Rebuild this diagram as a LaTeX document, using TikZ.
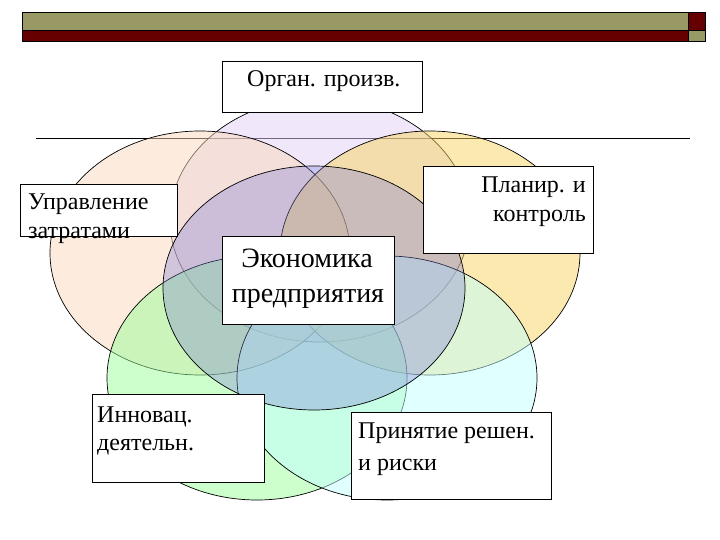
\documentclass[tikz,border=0pt]{standalone}
\usepackage{fontspec}
\setmainfont{Liberation Serif}
\definecolor{barGold}{HTML}{999966}
\definecolor{barRed}{HTML}{660000}
\definecolor{cTop}{HTML}{E1D1F5}
\definecolor{cLeft}{HTML}{FBD7BB}
\definecolor{cRight}{HTML}{F7D361}
\definecolor{cBL}{HTML}{99FF99}
\definecolor{cBR}{HTML}{C1FFFF}
\definecolor{cMid}{HTML}{7F80D6}
\tikzset{
  blob/.style={draw=black, line width=0.7pt, fill opacity=0.5},
  box/.style={draw=black, line width=0.9pt, fill=white, inner sep=0pt, anchor=north west},
  lbl/.style={inner sep=0pt, font=\fontsize{24}{29}\selectfont},
  biglbl/.style={inner sep=0pt, font=\fontsize{28}{34}\selectfont}
}
\begin{document}
\begin{tikzpicture}[x=1pt,y=-1pt]
\useasboundingbox (0,0) rectangle (720,540);
% title bar
\fill[barGold] (22,12) rectangle (688,30);
\fill[barRed] (688,12) rectangle (705,30);
\fill[barRed] (22,30) rectangle (688,41);
\fill[barGold] (688,30) rectangle (705,41);
\draw[line width=0.9pt] (22,12) rectangle (705,41);
\draw[line width=0.6pt] (22,30) -- (705,30);
\draw[line width=0.6pt] (688,12) -- (688,41);
% horizontal rule
\coordinate (ruleL) at (36,138);
\coordinate (ruleR) at (690,138);
\draw[line width=0.8pt] (ruleL) -- (ruleR);
% ellipses
\draw[blob, fill=cTop] (320,220) ellipse [x radius=150pt, y radius=122pt];
\draw[blob, fill=cLeft] (200,253) ellipse [x radius=150pt, y radius=122pt];
\draw[blob, fill=cRight] (430,253) ellipse [x radius=150pt, y radius=122pt];
\draw[blob, fill=cBL] (257,378) ellipse [x radius=150pt, y radius=122pt];
\draw[blob, fill=cBR] (387,378) ellipse [x radius=150pt, y radius=122pt];
\draw[blob, fill=cMid, fill opacity=0.35] (314,288) ellipse [x radius=151pt, y radius=122pt];
% boxes
\node[box, minimum width=200pt, minimum height=51pt] (bOrg) at (222,61) {};
\node[box, minimum width=157pt, minimum height=52pt] (bUpr) at (20,184) {};
\node[box, minimum width=170pt, minimum height=87pt] (bPlan) at (423,166) {};
\node[box, minimum width=172pt, minimum height=88pt] (bEcon) at (222,236) {};
\node[box, minimum width=172pt, minimum height=88pt] (bInn) at (92,394) {};
\node[box, minimum width=200pt, minimum height=87pt] (bPrin) at (351,412) {};
% texts
\node[lbl, anchor=base west] (tOrg) at (247,87) {Орган. произв.};
\node[lbl, anchor=base west] (tUpr1) at (28,210) {Управление};
\node[lbl, anchor=base west] (tUpr2) at (28,238) {затратами};
\node[lbl, anchor=base east] (tPlan1) at (586,193) {Планир. и};
\node[lbl, anchor=base east] (tPlan2) at (586,222) {контроль};
\node[biglbl, anchor=base] (tEcon1) at (307,267) {Экономика};
\node[biglbl, anchor=base] (tEcon2) at (308,302) {предприятия};
\node[lbl, anchor=base west] (tInn1) at (97,422) {Инновац.};
\node[lbl, anchor=base west] (tInn2) at (97,450) {деятельн.};
\node[lbl, anchor=base west] (tPrin1) at (358,438) {Принятие решен.};
\node[lbl, anchor=base west] (tPrin2) at (358,470) {и риски};
\end{tikzpicture}
\end{document}
